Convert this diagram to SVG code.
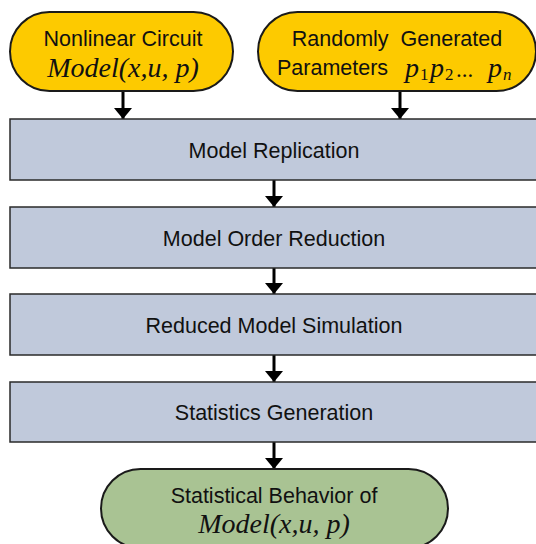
<svg xmlns="http://www.w3.org/2000/svg" width="536" height="544" viewBox="0 0 536 544">
<defs>
<marker id="ah" markerWidth="11" markerHeight="18" refX="11" refY="9" orient="auto" markerUnits="userSpaceOnUse" viewBox="0 0 11 18">
<path d="M0,0 L11,9 L0,18 Z" fill="#000"/>
</marker>
</defs>
<style>
.pill-y{fill:#FDCA00;stroke:#1a1a1a;stroke-width:2}
.pill-g{fill:#A9C393;stroke:#1a1a1a;stroke-width:2}
.box{fill:#C0C9DB;stroke:#2a2a2a;stroke-width:1.5}
.t{font-family:"Liberation Sans",Arial,sans-serif;font-size:21.5px;fill:#111;text-anchor:middle}
.ts{font-family:"Liberation Sans",Arial,sans-serif;font-size:21.5px;fill:#111;text-anchor:start}
.m{font-family:"Liberation Serif","Times New Roman",serif;font-style:italic;font-size:28px;fill:#111;text-anchor:middle}
.ms{font-family:"Liberation Serif","Times New Roman",serif;font-style:italic;font-size:28px;fill:#111;text-anchor:start}
.sub{font-family:"Liberation Serif","Times New Roman",serif;font-size:17px;fill:#111;text-anchor:start}
.c{stroke:#000;stroke-width:3;fill:none}
</style>
<rect width="536" height="544" fill="#fff"/>
<g id="connectors">
<line class="c" x1="123" y1="91" x2="123" y2="119" marker-end="url(#ah)"/>
<line class="c" x1="400" y1="91" x2="400" y2="119" marker-end="url(#ah)"/>
<line class="c" x1="274" y1="180" x2="274" y2="207" marker-end="url(#ah)"/>
<line class="c" x1="274" y1="268" x2="274" y2="294" marker-end="url(#ah)"/>
<line class="c" x1="274" y1="355" x2="274" y2="382" marker-end="url(#ah)"/>
<line class="c" x1="274" y1="442" x2="274" y2="469" marker-end="url(#ah)"/>
</g>
<g id="nonlinear-circuit">
<rect class="pill-y" x="10" y="12" width="223" height="79" rx="39.5"/>
<text class="t" x="123" y="46">Nonlinear Circuit</text>
<text class="m" x="123" y="77">Model(x,u, p)</text>
</g>
<g id="random-parameters">
<rect class="pill-y" x="258" y="12" width="278" height="79" rx="39.5"/>
<text class="t" x="397" y="46" xml:space="preserve">Randomly  Generated</text>
<text class="ts" x="277" y="75">Parameters</text>
<text class="ms" x="405" y="77">p</text>
<text class="sub" x="420" y="80">1</text>
<text class="ms" x="430" y="77">p</text>
<text class="sub" x="445" y="80">2</text>
<text class="sub" x="456" y="77" style="font-size:23px">...</text>
<text class="ms" x="488" y="77">p</text>
<text class="sub" x="503" y="80" style="font-style:italic">n</text>
</g>
<g id="model-replication">
<rect class="box" x="10" y="119" width="530" height="61"/>
<text class="t" x="274" y="158">Model Replication</text>
</g>
<g id="model-order-reduction">
<rect class="box" x="10" y="207" width="530" height="61"/>
<text class="t" x="274" y="246">Model Order Reduction</text>
</g>
<g id="reduced-model-simulation">
<rect class="box" x="10" y="294" width="530" height="61"/>
<text class="t" x="274" y="333">Reduced Model Simulation</text>
</g>
<g id="statistics-generation">
<rect class="box" x="10" y="382" width="530" height="60"/>
<text class="t" x="274" y="420">Statistics Generation</text>
</g>
<g id="statistical-behavior">
<rect class="pill-g" x="101" y="469" width="347" height="79" rx="39.5"/>
<text class="t" x="274" y="503">Statistical Behavior of</text>
<text class="m" x="274" y="533">Model(x,u, p)</text>
</g>
</svg>
